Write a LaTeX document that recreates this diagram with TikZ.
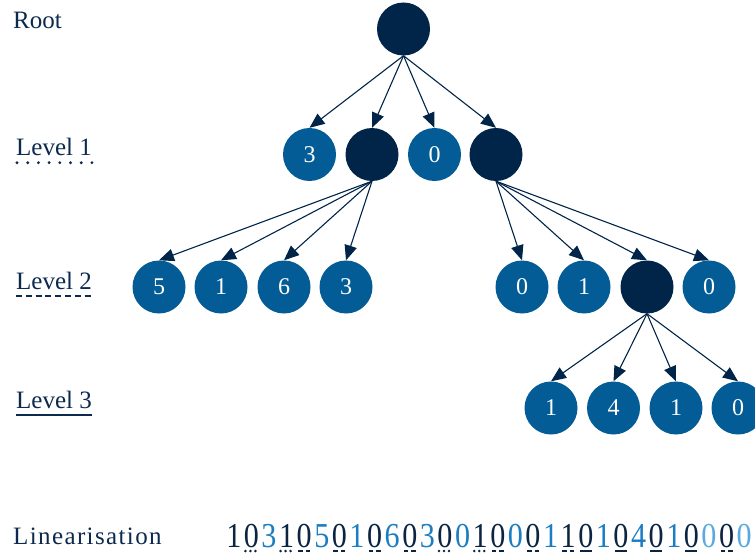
\documentclass[tikz,border=0pt]{standalone}
\usepackage{fontspec}
\usepackage{graphicx}
\setmainfont{Liberation Serif}
\usetikzlibrary{arrows.meta}
\definecolor{navy}{HTML}{002548}
\definecolor{nodeblue}{HTML}{035C96}
\definecolor{txt}{HTML}{0C2A4E}
\definecolor{lindark}{HTML}{0B2442}
\definecolor{linblue}{HTML}{1B7DC2}
\definecolor{linlight}{HTML}{5AAADF}
\begin{document}
\begin{tikzpicture}[x=1pt,y=-1pt,
  inode/.style={circle,fill=navy,minimum size=53pt,inner sep=0pt},
  leaf/.style={circle,fill=nodeblue,minimum size=53pt,inner sep=0pt,text=white,font=\fontsize{24}{24}\selectfont},
  edge/.style={draw=navy,line width=1.1pt,-{Triangle[length=15pt,width=12.5pt]}},
  lbl/.style={anchor=base west,inner sep=0pt,text=txt,font=\fontsize{25}{28}\selectfont},
  dig/.style={anchor=base,inner sep=0pt,minimum width=17.6pt,font=\fontsize{35}{40}\selectfont},
  cd/.style={text=lindark},
  cb/.style={text=linblue},
  cl/.style={text=linlight},
  ulo/.style={draw=lindark,line width=2.8pt,line cap=round,dash pattern=on 0pt off 5pt},
  ula/.style={draw=lindark,line width=2.6pt,dash pattern=on 4.5pt off 3pt},
  uls/.style={draw=lindark,line width=2.6pt},
  uln/.style={draw=none},
  lvdot/.style={draw=txt,line width=3.2pt,line cap=round,dash pattern=on 0pt off 10.7pt},
  lvdash/.style={draw=txt,line width=2.6pt,dash pattern=on 6pt off 3.8pt},
  lvsolid/.style={draw=txt,line width=2.2pt}]
\useasboundingbox (0,0) rectangle (755,559);

% labels
\node[lbl] (lroot) at (13,29) {Root};
\node[lbl] (lv1) at (16,156) {Level 1};
\node[lbl] (lv2) at (16,289) {Level 2};
\node[lbl] (lv3) at (16,408) {Level 3};
\node[lbl] (llin) at (13,544) {\addfontfeature{LetterSpace=5.5}Linearisation};
\draw[lvdot] ([yshift=-6.7pt,xshift=1pt]lv1.base west) -- ([yshift=-6.7pt,xshift=1.5pt]lv1.base east);
\draw[lvdash] ([yshift=-7pt]lv2.base west) -- ([yshift=-7pt]lv2.base east);
\draw[lvsolid] ([yshift=-7pt]lv3.base west) -- ([yshift=-7pt]lv3.base east);

% tree
\node[inode] (root) at (403.5,29) {};
\node[leaf]  (a) at (309.5,154.5) {3};
\node[inode] (b) at (372,154.5) {};
\node[leaf]  (c) at (434.5,154.5) {0};
\node[inode] (d) at (496,154.5) {};

\node[leaf] (e1) at (159,287) {5};
\node[leaf] (e2) at (221,287) {1};
\node[leaf] (e3) at (284,287) {6};
\node[leaf] (e4) at (346,287) {3};

\node[leaf]  (f1) at (522,287) {0};
\node[leaf]  (f2) at (584,287) {1};
\node[inode] (f3) at (647,287) {};
\node[leaf]  (f4) at (709,287) {0};

\node[leaf] (g1) at (551,408) {1};
\node[leaf] (g2) at (613.5,408) {4};
\node[leaf] (g3) at (676,408) {1};
\node[leaf] (g4) at (738,408) {0};

\foreach \t in {a,b,c,d} \draw[edge] (root.south) -- (\t.north);
\foreach \t in {e1,e2,e3,e4} \draw[edge] (b.south) -- (\t.north);
\foreach \t in {f1,f2,f3,f4} \draw[edge] (d.south) -- (\t.north);
\foreach \t in {g1,g2,g3,g4} \draw[edge] (f3.south) -- (\t.north);

% linearisation
\foreach \dd/\cc/\uu [count=\i] in {1/d/n,0/d/o,3/b/n,1/d/o,0/d/a,5/b/n,0/d/a,1/b/n,0/d/a,6/b/n,
  0/d/a,3/b/n,0/d/o,0/b/n,1/d/o,0/d/a,0/b/n,0/d/a,1/b/n,1/d/a,
  0/d/s,1/b/n,0/d/s,4/b/n,0/d/s,1/b/n,0/d/s,0/l/n,0/d/a,0/l/n}{
  \node[dig,c\cc] (l\i) at ({225+17.6*(\i-0.5)},547) {\scalebox{0.86}[1]{\dd}};
  \draw[ul\uu] ([xshift=3pt,yshift=-4pt]l\i.base west) -- ([xshift=-3pt,yshift=-4pt]l\i.base east);
}
\end{tikzpicture}
\end{document}
